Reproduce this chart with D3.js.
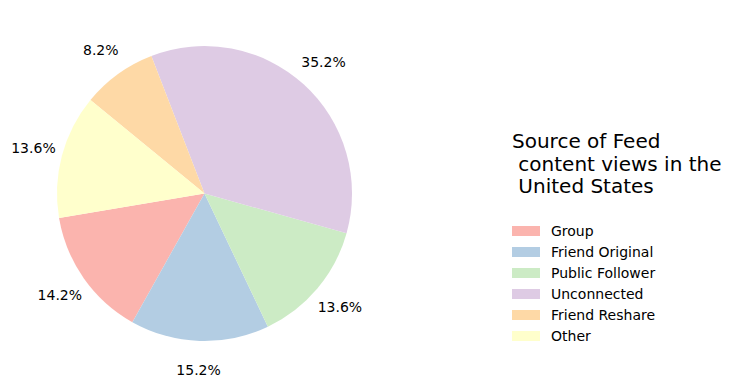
<!DOCTYPE html>
<html><head><meta charset="utf-8">
<script src="https://cdn.jsdelivr.net/npm/d3@7"></script>
<style>body{margin:0;background:#fff}svg{display:block;font-family:"DejaVu Sans",sans-serif}</style>
</head><body>
<script>
const categories = ["Group","Friend Original","Public Follower","Unconnected","Friend Reshare","Other"];
const values = [14.2,15.2,13.6,35.2,8.2,13.6];
const colors = ["#fbb4ae","#b3cde3","#ccebc5","#decbe4","#fed9a6","#ffffcc"];
const titleLines = ["Source of Feed"," content views in the"," United States"];

const W=744,H=389;
const svg=d3.select("body").append("svg").attr("width",W).attr("height",H);
const cx=204.5, cy=193.5, r=147.5;
const startDeg=189.6;
const toD3 = deg => (90 - deg) * Math.PI/180;
const total=d3.sum(values);
const color=d3.scaleOrdinal().domain(categories).range(colors);
let acc=startDeg;
const slices=values.map((v,i)=>{const a0=acc; const a1=acc+v/total*360; acc=a1; return {i,v,a0,a1};});
const g=svg.append("g").attr("transform",`translate(${cx},${cy})`);
const arc=d3.arc().innerRadius(0).outerRadius(r);
g.selectAll("path").data(slices).join("path")
 .attr("d",d=>arc({startAngle:toD3(d.a1),endAngle:toD3(d.a0)}))
 .attr("fill",d=>color(categories[d.i]));
g.selectAll("text").data(slices).join("text")
 .attr("x",d=>1.2*r*Math.cos((d.a0+d.a1)/2*Math.PI/180))
 .attr("y",d=>-1.2*r*Math.sin((d.a0+d.a1)/2*Math.PI/180))
 .attr("text-anchor","middle").attr("dominant-baseline","central")
 .attr("font-size",14).attr("fill","#000")
 .text(d=>d.v.toFixed(1)+"%");

const lg=svg.append("g").attr("transform","translate(512,0)");
lg.selectAll("text.t").data(titleLines).join("text").attr("class","t")
 .attr("x",0).attr("y",(d,i)=>148+i*22.5).attr("font-size",20).attr("xml:space","preserve")
 .style("white-space","pre").text(d=>d);
const items=lg.selectAll("g.item").data(categories).join("g").attr("class","item")
 .attr("transform",(d,i)=>`translate(0,${231+i*21})`);
items.append("rect").attr("x",0).attr("y",-5).attr("width",28).attr("height",10).attr("fill",d=>color(d));
items.append("text").attr("x",39).attr("y",0).attr("dominant-baseline","central").attr("font-size",14).text(d=>d);
</script>
</body></html>
